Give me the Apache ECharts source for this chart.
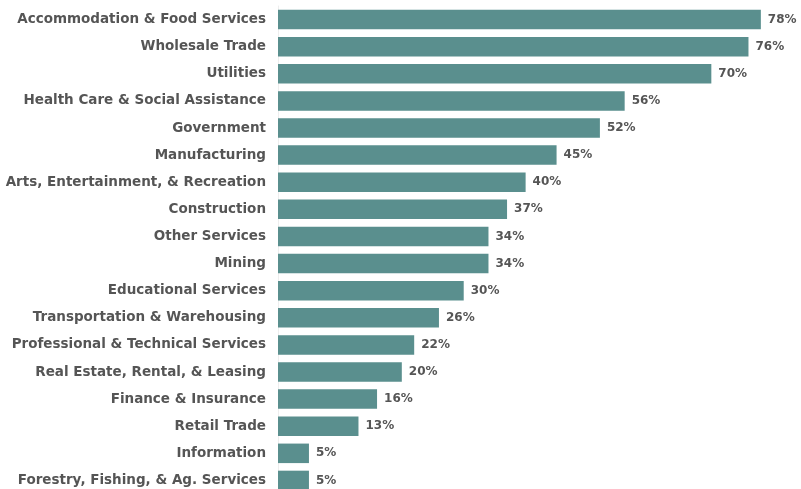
<!DOCTYPE html>
<html>
<head>
<meta charset="utf-8">
<script src="https://cdn.jsdelivr.net/npm/echarts@6/dist/echarts.min.js"></script>
<style>html,body{margin:0;padding:0;background:#fff;overflow:hidden;}#c{width:801px;height:500px;}</style>
</head>
<body>
<div id="c"></div>
<script>
const categories = [
  "Accommodation & Food Services",
  "Wholesale Trade",
  "Utilities",
  "Health Care & Social Assistance",
  "Government",
  "Manufacturing",
  "Arts, Entertainment, & Recreation",
  "Construction",
  "Other Services",
  "Mining",
  "Educational Services",
  "Transportation & Warehousing",
  "Professional & Technical Services",
  "Real Estate, Rental, & Leasing",
  "Finance & Insurance",
  "Retail Trade",
  "Information",
  "Forestry, Fishing, & Ag. Services"
];
const values = [78, 76, 70, 56, 52, 45, 40, 37, 34, 34, 30, 26, 22, 20, 16, 13, 5, 5];

const chart = echarts.init(document.getElementById('c'));
chart.setOption({
  animation: false,
  grid: { left: 278, top: 6, width: 520, height: 488 },
  xAxis: { type: 'value', min: 0, max: 84, show: false },
  yAxis: {
    type: 'category',
    data: categories,
    inverse: true,
    axisLine: { show: true, lineStyle: { color: '#eeeeee', width: 1 } },
    axisTick: { show: false },
    axisLabel: {
      margin: 12,
      color: '#555555',
      fontFamily: 'DejaVu Sans',
      fontWeight: 'bold',
      fontSize: 13.5
    }
  },
  series: [{
    type: 'bar',
    data: values,
    barCategoryGap: '28%',
    itemStyle: { color: '#5a8f8e' },
    label: {
      show: true,
      position: 'right',
      distance: 7,
      formatter: '{c}%',
      color: '#555555',
      fontFamily: 'DejaVu Sans',
      fontWeight: 'bold',
      fontSize: 12
    }
  }]
});
</script>
</body>
</html>
